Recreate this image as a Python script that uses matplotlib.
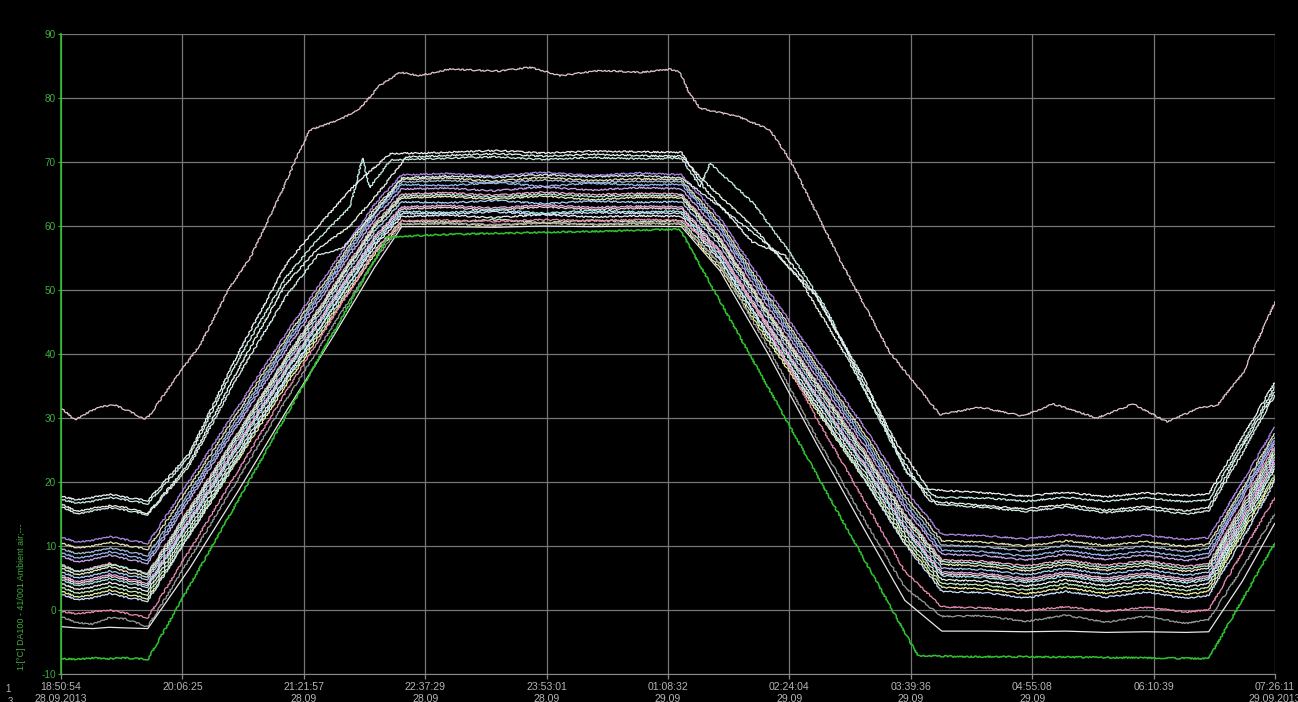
import matplotlib.pyplot as plt

# --- time axis: minutes after 18:50:54 on 28.09.2013 ------------------------
tick_min = [0, 75.52, 151.05, 226.58, 302.12, 377.63, 453.17, 528.70, 604.23, 679.75, 755.28]
tick_labels = ["18:50:54\n28.09.2013", "20:06:25", "21:21:57\n28.09", "22:37:29\n28.09",
               "23:53:01\n28.09", "01:08:32\n29.09", "02:24:04\n29.09", "03:39:36\n29.09",
               "04:55:08\n29.09", "06:10:39", "07:26:11\n29.09.2013"]
y_ticks = [-10, 0, 10, 20, 30, 40, 50, 60, 70, 80, 90]

# --- ambient air (green channel) -----------------------------------------
ambient_t = [0, 10, 20, 30, 40, 54.1, 203, 230, 260, 300, 340, 385,
             533, 560, 600, 640, 680, 714, 755.3]
ambient_v = [-7.6, -7.7, -7.5, -7.6, -7.5, -7.7, 58.2, 58.6, 58.8, 59.0, 59.2, 59.5,
             -7.1, -7.3, -7.3, -7.4, -7.5, -7.6, 10.5]

# --- hottest probe (top curve) ------------------------------------------
top_t = [0, 8.7, 14.9, 24.3, 33.6, 42.9, 52.3, 55.4,
         67.8, 86.5, 105.2, 117.6, 136.3, 148.7, 154.9, 173.6, 186.0, 198.5, 210.9,
         223.4, 242.0, 273.1, 291.8, 310.5, 335.4, 360.3, 378.9, 385.1,
         391.4, 397.6, 422.5, 441.1, 453.6, 484.7, 515.8, 546.9,
         571.8, 598.6, 617.2, 644.6, 667.0, 688.2, 708.7, 719.3,
         735.4, 755.3]
top_v = [31.6, 29.7, 30.6, 31.8, 32.0, 31.0, 29.8, 30.5,
         35.0, 41.4, 50.5, 55.0, 64.8, 71.9, 75.0, 76.6, 78.4, 82.0, 84.0,
         83.5, 84.5, 84.2, 84.8, 83.5, 84.3, 84.0, 84.5, 84.0,
         80.5, 78.4, 77.0, 75.0, 70.3, 54.7, 40.2, 30.5,
         31.7, 30.3, 32.2, 30.0, 32.2, 29.4, 31.6, 32.0,
         37.0, 48.1]

# --- the ~17 degC group (reach ~71 on the plateau) ---------------------------
a1_t = [0, 10, 20, 30, 40, 54, 80, 110, 140, 160, 185, 205, 240, 270, 300, 330, 360, 386,
        400, 430, 450, 470, 490, 520, 540, 575, 600, 625, 650, 675, 700, 714, 735, 755]
a1_v = [17.8, 17.2, 17.6, 18.1, 17.6, 17.1, 24.5, 40.0, 54.0, 60.0, 67.0, 71.3,
        71.5, 71.8, 71.4, 71.7, 71.6, 71.5, 66.0, 57.5, 55.5, 49.0, 40.0, 26.0, 18.8,
        18.3, 17.8, 18.4, 17.7, 18.3, 17.9, 18.1, 27.0, 35.5]
a2_t = [0, 10, 20, 30, 40, 54, 80, 110, 140, 160, 180, 187.5, 192, 205,
        240, 270, 300, 330, 360, 386, 397.6, 403.8, 430.6, 453.6, 476.6, 505.2, 526.4, 536.3, 545,
        575, 600, 625, 650, 675, 700, 714, 735, 755]
a2_v = [17.3, 16.7, 17.0, 17.6, 17.2, 16.6, 24.0, 39.0, 52.0, 58.0, 63.0, 70.6, 66.0, 70.3,
        70.6, 70.8, 70.4, 70.7, 70.5, 70.6, 66.1, 69.8, 63.6, 55.8, 46.9, 31.7, 21.4, 19.2, 17.6,
        17.5, 17.0, 17.6, 17.0, 17.5, 16.9, 17.2, 26.0, 34.8]
a3_t = [0, 10, 20, 30, 40, 54, 80, 110, 140, 160, 180, 200, 215, 240, 270, 300, 330, 360, 386,
        400, 430, 460, 490, 520, 540, 575, 600, 625, 650, 675, 700, 714, 735, 755]
a3_v = [16.6, 15.4, 15.9, 16.3, 16.0, 15.1, 23.0, 37.5, 51.0, 56.5, 60.0, 66.0, 70.8,
        71.0, 71.3, 70.9, 71.2, 71.0, 70.9, 67.0, 60.0, 51.5, 39.0, 25.0, 17.0,
        16.3, 15.8, 16.5, 15.6, 16.2, 15.5, 16.0, 25.5, 34.0]
a4_t = [0, 10, 20, 30, 40, 54, 80, 110, 140, 160, 175, 195, 212, 240, 270, 300, 330, 360, 386,
        410, 440, 470, 500, 525, 545, 575, 600, 625, 650, 675, 700, 714, 735, 755]
a4_v = [16.2, 15.0, 15.5, 16.0, 15.6, 14.9, 22.5, 36.5, 49.0, 55.5, 56.5, 62.0, 67.5,
        67.8, 67.6, 68.0, 67.7, 67.9, 67.5, 63.0, 57.0, 49.0, 36.0, 22.0, 16.5,
        16.0, 15.4, 16.1, 15.2, 15.8, 15.0, 15.5, 24.5, 33.5]

# --- main bundle and the cold probes, all on one time grid -----------------
grid_t = [0, 10, 20, 30, 40, 54,
          80, 110, 140, 170, 195, 212,
          240, 270, 300, 330, 360, 386,
          410, 440, 470, 500, 525, 548,
          575, 600, 625, 650, 675, 700, 714,
          735, 755]
bundle_v = [
    [11.4, 10.6, 10.9, 11.5, 11.0, 10.4, 20.2, 31.7, 43.2, 54.2, 63.4, 68.0, 68.2, 67.8, 68.4, 67.9, 68.3, 68.0, 61.2, 49.9, 39.2, 28.5, 18.8, 11.8, 11.6, 11.1, 11.8, 11.2, 11.7, 11.0, 11.3, 20.0, 28.5],
    [10.5, 9.7, 10.0, 10.6, 10.1, 9.5, 19.3, 30.9, 42.4, 53.4, 62.7, 67.3, 67.5, 67.0, 67.6, 67.1, 67.4, 67.2, 60.5, 49.1, 38.3, 27.5, 17.9, 10.8, 10.6, 10.0, 10.8, 10.1, 10.7, 9.9, 10.3, 19.0, 27.5],
    [9.6, 8.8, 9.1, 9.7, 9.2, 8.5, 18.4, 30.1, 41.8, 52.9, 62.2, 66.9, 67.1, 66.7, 67.2, 66.8, 67.0, 66.9, 60.0, 48.6, 37.8, 26.9, 17.2, 10.1, 9.9, 9.2, 10.1, 9.3, 10.0, 9.1, 9.6, 18.5, 27.0],
    [9.0, 8.1, 8.5, 9.1, 8.6, 7.8, 17.8, 29.5, 41.3, 52.4, 61.8, 66.5, 66.3, 66.8, 66.2, 66.7, 66.4, 66.5, 59.6, 48.1, 37.2, 26.3, 16.5, 9.3, 9.1, 8.4, 9.3, 8.5, 9.2, 8.3, 8.8, 18.0, 26.5],
    [8.5, 7.5, 7.9, 8.6, 8.0, 7.3, 17.2, 28.9, 40.6, 51.8, 61.1, 65.8, 65.9, 65.5, 66.1, 65.6, 66.0, 65.8, 58.9, 47.4, 36.5, 25.6, 15.9, 8.7, 8.5, 7.8, 8.7, 7.9, 8.6, 7.7, 8.2, 17.5, 26.0],
    [7.2, 6.0, 6.6, 7.3, 6.5, 5.8, 15.9, 27.7, 39.5, 50.8, 60.3, 65.0, 65.2, 64.8, 65.3, 64.9, 65.1, 65.0, 58.1, 46.6, 35.7, 24.8, 15.0, 7.8, 7.6, 6.9, 7.8, 7.0, 7.7, 6.8, 7.2, 16.5, 25.5],
    [7.0, 6.0, 6.4, 7.1, 6.6, 5.6, 15.6, 27.5, 39.3, 50.5, 60.0, 64.7, 64.9, 64.5, 65.0, 64.6, 64.8, 64.7, 57.8, 46.3, 35.4, 24.4, 14.7, 7.5, 7.3, 6.5, 7.5, 6.6, 7.4, 6.4, 6.9, 16.0, 25.0],
    [6.6, 5.5, 6.0, 6.8, 6.0, 5.2, 15.3, 27.1, 38.9, 50.2, 59.7, 64.4, 64.6, 64.2, 64.7, 64.1, 64.5, 64.4, 57.5, 46.0, 35.0, 24.1, 14.3, 7.1, 6.9, 6.1, 7.1, 6.2, 7.0, 6.0, 6.5, 15.5, 24.5],
    [6.0, 5.0, 5.4, 6.1, 5.5, 4.8, 14.8, 26.6, 38.4, 49.6, 59.1, 63.8, 63.6, 64.0, 63.5, 63.9, 63.7, 63.8, 56.9, 45.4, 34.4, 23.5, 13.7, 6.5, 6.3, 5.5, 6.5, 5.6, 6.4, 5.4, 5.9, 15.0, 24.0],
    [5.5, 4.4, 4.9, 5.6, 5.0, 4.2, 14.2, 26.0, 37.7, 48.9, 58.3, 63.0, 63.2, 62.8, 63.3, 62.9, 63.1, 63.0, 56.1, 44.6, 33.7, 22.8, 13.1, 5.9, 5.7, 4.9, 5.9, 5.0, 5.8, 4.8, 5.3, 14.5, 23.5],
    [5.2, 4.1, 4.6, 5.3, 4.7, 3.9, 13.9, 25.7, 37.4, 48.6, 58.0, 62.7, 62.9, 62.5, 63.0, 62.6, 62.8, 62.7, 55.8, 44.3, 33.4, 22.5, 12.8, 5.6, 5.4, 4.6, 5.6, 4.7, 5.5, 4.5, 5.0, 14.0, 23.0],
    [4.8, 3.8, 4.2, 4.9, 4.3, 3.6, 13.6, 25.3, 37.1, 48.2, 57.6, 62.3, 62.1, 62.5, 62.0, 62.4, 62.2, 62.3, 55.4, 44.0, 33.1, 22.2, 12.5, 5.3, 5.1, 4.3, 5.3, 4.4, 5.2, 4.2, 4.7, 13.5, 22.5],
    [4.2, 3.2, 3.6, 4.3, 3.7, 3.0, 12.9, 24.6, 36.3, 47.5, 56.8, 61.5, 61.7, 61.3, 61.8, 61.4, 61.6, 61.5, 54.6, 43.2, 32.4, 21.5, 11.8, 4.7, 4.5, 3.7, 4.7, 3.8, 4.6, 3.6, 4.1, 13.0, 22.0],
    [3.6, 2.6, 3.0, 3.7, 3.1, 2.4, 12.3, 24.0, 35.7, 46.8, 56.1, 60.8, 60.6, 61.0, 60.5, 60.9, 60.7, 60.8, 54.0, 42.6, 31.7, 20.9, 11.2, 4.1, 3.9, 3.1, 4.1, 3.2, 4.0, 3.0, 3.5, 12.5, 21.0],
    [3.0, 2.0, 2.4, 3.1, 2.5, 1.8, 11.7, 23.4, 35.1, 46.3, 55.6, 60.3, 60.4, 60.1, 60.5, 60.2, 60.4, 60.3, 53.4, 42.0, 31.2, 20.3, 10.6, 3.5, 3.3, 2.5, 3.5, 2.6, 3.4, 2.4, 2.9, 12.0, 20.5],
    [2.5, 1.6, 1.9, 2.6, 2.0, 1.4, 11.7, 23.8, 36.0, 47.5, 57.2, 62.0, 61.9, 62.2, 61.8, 62.1, 62.0, 62.0, 54.9, 43.0, 31.7, 20.4, 10.3, 2.9, 2.7, 1.9, 2.9, 2.0, 2.8, 1.8, 2.3, 11.0, 20.0],
]
bundle_colors = ["#b288e6", "#e2e2b4", "#a8b8d4", "#92baf2", "#caa8ea", "#f2a8ca",
                 "#b0f0d8", "#f2eac2", "#aad2fa", "#e2b2e2", "#f8d2da", "#a2eaea",
                 "#f2f2f2", "#c2f2c2", "#f2f2a4", "#cae2ff"]

cold_v = [
    [-0.2, -0.6, -0.3, 0.0, -0.5, -1.2, 9.3, 21.7, 34.1, 46.0, 55.9, 60.8, 60.9, 60.7, 61.0, 60.8, 61.0, 60.9, 56.0, 44.0, 30.0, 17.0, 6.0, 0.5, 0.3, -0.1, 0.5, -0.2, 0.4, -0.3, 0.0, 9.0, 17.5],
    [-1.0, -2.0, -2.2, -1.2, -1.4, -2.6, 8.0, 20.4, 32.8, 44.7, 54.6, 60.3, 60.4, 60.2, 60.5, 60.3, 60.5, 60.4, 54.0, 41.0, 27.0, 14.0, 3.5, -1.0, -0.9, -1.8, -0.8, -1.9, -1.0, -2.1, -1.5, 6.5, 15.0],
    [-2.6, -2.8, -2.9, -2.7, -2.8, -2.9, 6.5, 18.5, 31.0, 43.0, 53.5, 59.9, 59.9, 59.8, 60.0, 59.9, 60.0, 59.9, 53.0, 40.0, 26.0, 12.5, 1.5, -3.3, -3.3, -3.4, -3.3, -3.5, -3.4, -3.5, -3.4, 4.5, 13.5],
]
cold_colors = ["#ea8cb4", "#9a9a9a", "#e6e6e6"]

GREEN = "#2fc42f"
LABEL_GREEN = "#3fae3f"

fig = plt.figure(figsize=(12.98, 7.02), dpi=100, facecolor="black")
ax = fig.add_axes([61 / 1298, 28 / 702, 1214 / 1298, 640 / 702])
ax.set_facecolor("black")


def trace(t, v, color, lw=0.9, jitter=True, z=2):
    line, = ax.plot(t, v, color=color, lw=lw, zorder=z, solid_joinstyle="round")
    if jitter:
        line.set_sketch_params(scale=0.7, length=3, randomness=10)
    return line


for vals, c in zip(bundle_v, bundle_colors):
    trace(grid_t, vals, c)
for vals, c in zip(cold_v, cold_colors):
    trace(grid_t, vals, c, jitter=(c != "#e6e6e6"))

trace(a4_t, a4_v, "#d6ecec")
trace(a3_t, a3_v, "#e8f4e4")
trace(a2_t, a2_v, "#c8f0e8")
trace(a1_t, a1_v, "#eef2f6")
trace(top_t, top_v, "#e2c4cc")
trace(ambient_t, ambient_v, GREEN, lw=1.1, z=3)

ax.set_xlim(0, 755.28)
ax.set_ylim(-10, 90)
ax.set_xticks(tick_min)
ax.set_xticklabels(tick_labels, family="Liberation Sans", fontsize=7.6,
                   color="#b4b4b4", linespacing=1.15)
ax.set_yticks(y_ticks)
ax.set_yticklabels([str(v) for v in y_ticks], family="Liberation Sans",
                   fontsize=7.2, color=LABEL_GREEN)
ax.grid(True, color="#767676", lw=0.9, zorder=0)
ax.set_axisbelow(True)

for side in ("top", "right"):
    ax.spines[side].set_visible(False)
ax.spines["bottom"].set_color("#8a8a8a")
ax.spines["left"].set_color(GREEN)
ax.spines["left"].set_linewidth(1.2)
ax.spines["left"].set_zorder(4)

ax.tick_params(axis="x", colors="#8a8a8a", length=3.5, width=0.9, pad=2.5,
               labelcolor="#b4b4b4")
ax.tick_params(axis="y", colors=LABEL_GREEN, length=2.5, width=0.9, pad=1,
               labelcolor=LABEL_GREEN)

fig.text(22 / 1298, 32 / 702, "1:[°C] DA100 - 41/001 Ambient air;---", rotation=90,
         color=LABEL_GREEN, family="Liberation Sans", fontsize=6.4,
         ha="center", va="bottom")
fig.text(5 / 1298, 10 / 702, "1", color="#b4b4b4", family="Liberation Sans", fontsize=7)
fig.text(8 / 1298, -3 / 702, "3", color="#b4b4b4", family="Liberation Sans", fontsize=7)

fig.savefig("out.png", dpi=100, facecolor="black")
